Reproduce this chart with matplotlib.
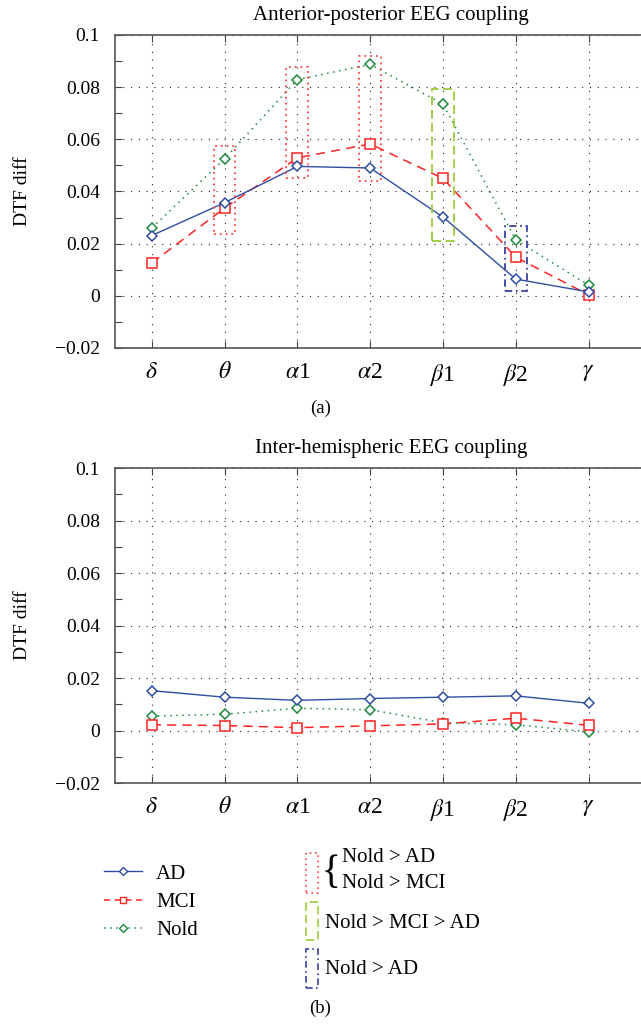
import matplotlib
matplotlib.use("Agg")
import matplotlib.pyplot as plt
from matplotlib.lines import Line2D
from matplotlib.patches import Rectangle
from matplotlib.ticker import MultipleLocator

plt.rcParams['font.family'] = ['Liberation Serif', 'DejaVu Serif']
plt.rcParams['mathtext.fontset'] = 'stix'

bands = [r'$\delta$', r'$\theta$', r'$\alpha$1', r'$\alpha$2', r'$\beta$1', r'$\beta$2', r'$\gamma$']

# anterior-posterior
ap_ad = [0.0231, 0.0357, 0.0496, 0.0490, 0.0302, 0.0064, 0.0015]
ap_mci = [0.0126, 0.0336, 0.0529, 0.0582, 0.0450, 0.0148, 0.0004]
ap_nold = [0.0260, 0.0525, 0.0829, 0.0887, 0.0735, 0.0214, 0.0041]

# inter-hemispheric
ih_ad = [0.0152, 0.0127, 0.0115, 0.0122, 0.0127, 0.0132, 0.0104]
ih_mci = [0.0022, 0.0019, 0.0011, 0.0018, 0.0025, 0.0047, 0.0020]
ih_nold = [0.0055, 0.0062, 0.0085, 0.0079, 0.0030, 0.0022, -0.0005]

# significance boxes on top panel (band index, low, high, kind)
box_band = [2, 3, 4, 5, 6]
box_low = [0.0236, 0.0453, 0.0439, 0.0210, 0.0019]
box_high = [0.0575, 0.0876, 0.0921, 0.0791, 0.0268]
box_kind = ['red', 'red', 'red', 'green', 'blue']

yticks = [-0.02, 0, 0.02, 0.04, 0.06, 0.08, 0.1]
ylabels = ['\u22120.02', '0', '0.02', '0.04', '0.06', '0.08', '0.1']

col_ad = '#2f4ea3'
col_mci = '#ff2424'
col_nold = '#1f8a3c'
box_style = {'red': ('#ff4040', (0, (1, 2.2))),
             'green': ('#9dcc3c', (0, (5, 2.5))),
             'blue': ('#3a3f9e', (0, (4, 2, 1, 2)))}

x = list(range(1, len(bands) + 1))

fig = plt.figure(figsize=(6.41, 10.28), dpi=100)
ax1 = fig.add_axes([0.180, 0.6615, 0.86, 0.3045])
ax2 = fig.add_axes([0.180, 0.2383, 0.86, 0.3064])


def style_axes(ax, title):
    ax.set_xlim(0.5, 0.5 + 0.86 * 641 / 72.8)
    ax.set_ylim(-0.02, 0.1)
    ax.set_xticks(x)
    ax.set_xticklabels(bands, fontsize=17)
    ax.set_yticks(yticks)
    ax.set_yticklabels(ylabels, fontsize=14)
    ax.yaxis.set_minor_locator(MultipleLocator(0.01))
    ax.tick_params(direction='in', length=5, width=0.8, color='#444444', top=True)
    ax.tick_params(axis='y', pad=11)
    ax.tick_params(axis='x', pad=10)
    ax.tick_params(which='minor', direction='in', length=5, width=0.8, color='#444444')
    ax.grid(True, which='major', color='#222222', linestyle=(0, (1, 6)), linewidth=0.8)
    for s in ['left', 'top', 'bottom']:
        ax.spines[s].set_color('#555555')
        ax.spines[s].set_linewidth(1.2)
    ax.spines['right'].set_visible(False)
    ax.set_ylabel('DTF diff', fontsize=14, labelpad=17)
    ax.set_title(title, fontsize=15, pad=11)


def draw_series(ax, ad, mci, nold):
    ax.plot(x, nold, color=col_nold, linestyle=(0, (1, 3)), linewidth=1.1,
            marker='D', markersize=5, markerfacecolor='white', markeredgecolor=col_nold, markeredgewidth=1.1)
    ax.plot(x, mci, color=col_mci, linestyle=(0, (6, 4)), linewidth=1.1,
            marker='s', markersize=6.5, markerfacecolor='white', markeredgecolor=col_mci, markeredgewidth=1.1)
    ax.plot(x, ad, color=col_ad, linestyle='-', linewidth=1.0,
            marker='D', markersize=5, markerfacecolor='white', markeredgecolor=col_ad, markeredgewidth=1.1)


style_axes(ax1, 'Anterior-posterior EEG coupling')
style_axes(ax2, 'Inter-hemispheric EEG coupling')

for b, lo, hi, k in zip(box_band, box_low, box_high, box_kind):
    c, ls = box_style[k]
    ax1.add_patch(Rectangle((b - 0.15, lo), 0.3, hi - lo, fill=False, edgecolor=c,
                            linestyle=ls, linewidth=1.3, zorder=4))

draw_series(ax1, ap_ad, ap_mci, ap_nold)
draw_series(ax2, ih_ad, ih_mci, ih_nold)

fig.text(0.5, 1 - 408 / 1028, '(a)', ha='center', va='center', fontsize=13.5)
fig.text(0.5, 1 - 1008 / 1028, '(b)', ha='center', va='center', fontsize=13.5)

# line legend
handles = [
    Line2D([], [], color=col_ad, linestyle='-', linewidth=1.0, marker='D', markersize=4.5,
           markerfacecolor='white', markeredgecolor=col_ad),
    Line2D([], [], color=col_mci, linestyle=(0, (4, 3)), linewidth=1.1, marker='s', markersize=5,
           markerfacecolor='white', markeredgecolor=col_mci),
    Line2D([], [], color=col_nold, linestyle=(0, (1, 3)), linewidth=1.1, marker='D', markersize=4.5,
           markerfacecolor='white', markeredgecolor=col_nold),
]
fig.legend(handles, ['AD', 'MCI', 'Nold'], loc='upper left', bbox_to_anchor=(104 / 641, 1 - 864 / 1028),
           frameon=False, fontsize=15, handlelength=1.8, handletextpad=0.7, labelspacing=0.42,
           borderaxespad=0, borderpad=0)

# box legend
legend_boxes = [('red', 853, 893), ('green', 902, 940), ('blue', 949, 988)]
for k, top, bot in legend_boxes:
    c, ls = box_style[k]
    fig.patches.append(Rectangle((306 / 641, 1 - bot / 1028), 12 / 641, (bot - top) / 1028,
                                 transform=fig.transFigure, fill=False, edgecolor=c,
                                 linestyle=ls, linewidth=1.2))
fig.text(331 / 641, 1 - 873 / 1028, '{', fontsize=28, ha='center', va='center', fontweight='light')
fig.text(342 / 641, 1 - 858 / 1028, 'Nold > AD', fontsize=15, va='center')
fig.text(342 / 641, 1 - 884 / 1028, 'Nold > MCI', fontsize=15, va='center')
fig.text(325 / 641, 1 - 923 / 1028, 'Nold > MCI > AD', fontsize=15, va='center')
fig.text(325 / 641, 1 - 969 / 1028, 'Nold > AD', fontsize=15, va='center')

fig.savefig('out.png', dpi=100)
